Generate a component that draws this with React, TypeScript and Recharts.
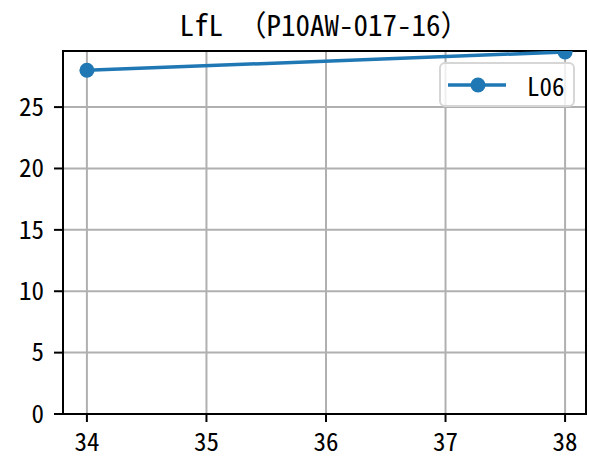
import React from "react";
import { LineChart, Line, XAxis, YAxis, CartesianGrid, ReferenceArea } from "recharts";

const xValues = [34, 38];
const l06Values = [28.0, 29.49];
const xTicks = [34, 35, 36, 37, 38];
const yTicks = [0, 5, 10, 15, 20, 25];
const seriesName = "L06";
const title = "LfL （P10AW-017-16）";

const data = xValues.map((x, i) => ({ x, L06: l06Values[i] }));

const X_DOMAIN: [number, number] = [33.8, 38.175];
const Y_DOMAIN: [number, number] = [0, 29.57];

const FONT = "'Noto Sans Mono CJK JP', 'DejaVu Sans Mono', monospace";
const BLUE = "#1f77b4";

const LegendBox = () => (
  <div
    style={{
      position: "absolute",
      left: 439,
      top: 62,
      width: 136,
      height: 45,
      boxSizing: "border-box",
      border: "2px solid #d6d6d6",
      borderRadius: 6,
      background: "rgba(255,255,255,0.8)",
      display: "flex",
      alignItems: "center",
      fontFamily: FONT,
      fontSize: 25,
      color: "#000",
    }}
  >
    <svg width={78} height={20} style={{ marginLeft: 7 }}>
      <line x1={0} y1={10} x2={58} y2={10} stroke={BLUE} strokeWidth={3.5} />
      <circle cx={30} cy={10} r={7.5} fill={BLUE} />
    </svg>
    <span style={{ marginLeft: 1 }}>{seriesName}</span>
  </div>
);

export default function App() {
  return (
    <div style={{ position: "absolute", left: 0, top: 0, width: 589, height: 457, background: "#fff" }}>
      <LineChart
        width={589}
        height={457}
        data={data}
        margin={{ top: 51, right: 3, bottom: 0, left: 0 }}
      >
        <CartesianGrid stroke="#b0b0b0" strokeWidth={2} verticalValues={xTicks} horizontalValues={yTicks} />
        <XAxis
          dataKey="x"
          type="number"
          domain={X_DOMAIN}
          ticks={xTicks}
          allowDataOverflow
          height={43}
          tickSize={8}
          tickLine={{ stroke: "#000", strokeWidth: 2 }}
          axisLine={{ stroke: "#000", strokeWidth: 2 }}
          tick={{ fill: "#000", fontSize: 25, fontFamily: FONT }}
          tickMargin={11}
        />
        <YAxis
          type="number"
          domain={Y_DOMAIN}
          ticks={yTicks}
          allowDataOverflow
          width={63}
          tickSize={9}
          tickLine={{ stroke: "#000", strokeWidth: 2 }}
          axisLine={{ stroke: "#000", strokeWidth: 2 }}
          tick={{ fill: "#000", fontSize: 25, fontFamily: FONT }}
          tickMargin={10}
        />
        <ReferenceArea x1={X_DOMAIN[0]} x2={X_DOMAIN[1]} y1={Y_DOMAIN[0]} y2={Y_DOMAIN[1]} fill="none" stroke="#000" strokeWidth={2} />
        <Line
          dataKey="L06"
          name={seriesName}
          stroke={BLUE}
          strokeWidth={3.5}
          dot={{ r: 7.5, fill: BLUE, stroke: BLUE, strokeWidth: 0 }}
          isAnimationActive={false}
        />
      </LineChart>
      <div
        style={{
          position: "absolute",
          left: 63,
          width: 523,
          top: 4,
          textAlign: "center",
          fontFamily: FONT,
          fontSize: 29,
          lineHeight: "38px",
          color: "#000",
          whiteSpace: "pre",
        }}
      >
        {title}
      </div>
      <LegendBox />
    </div>
  );
}
